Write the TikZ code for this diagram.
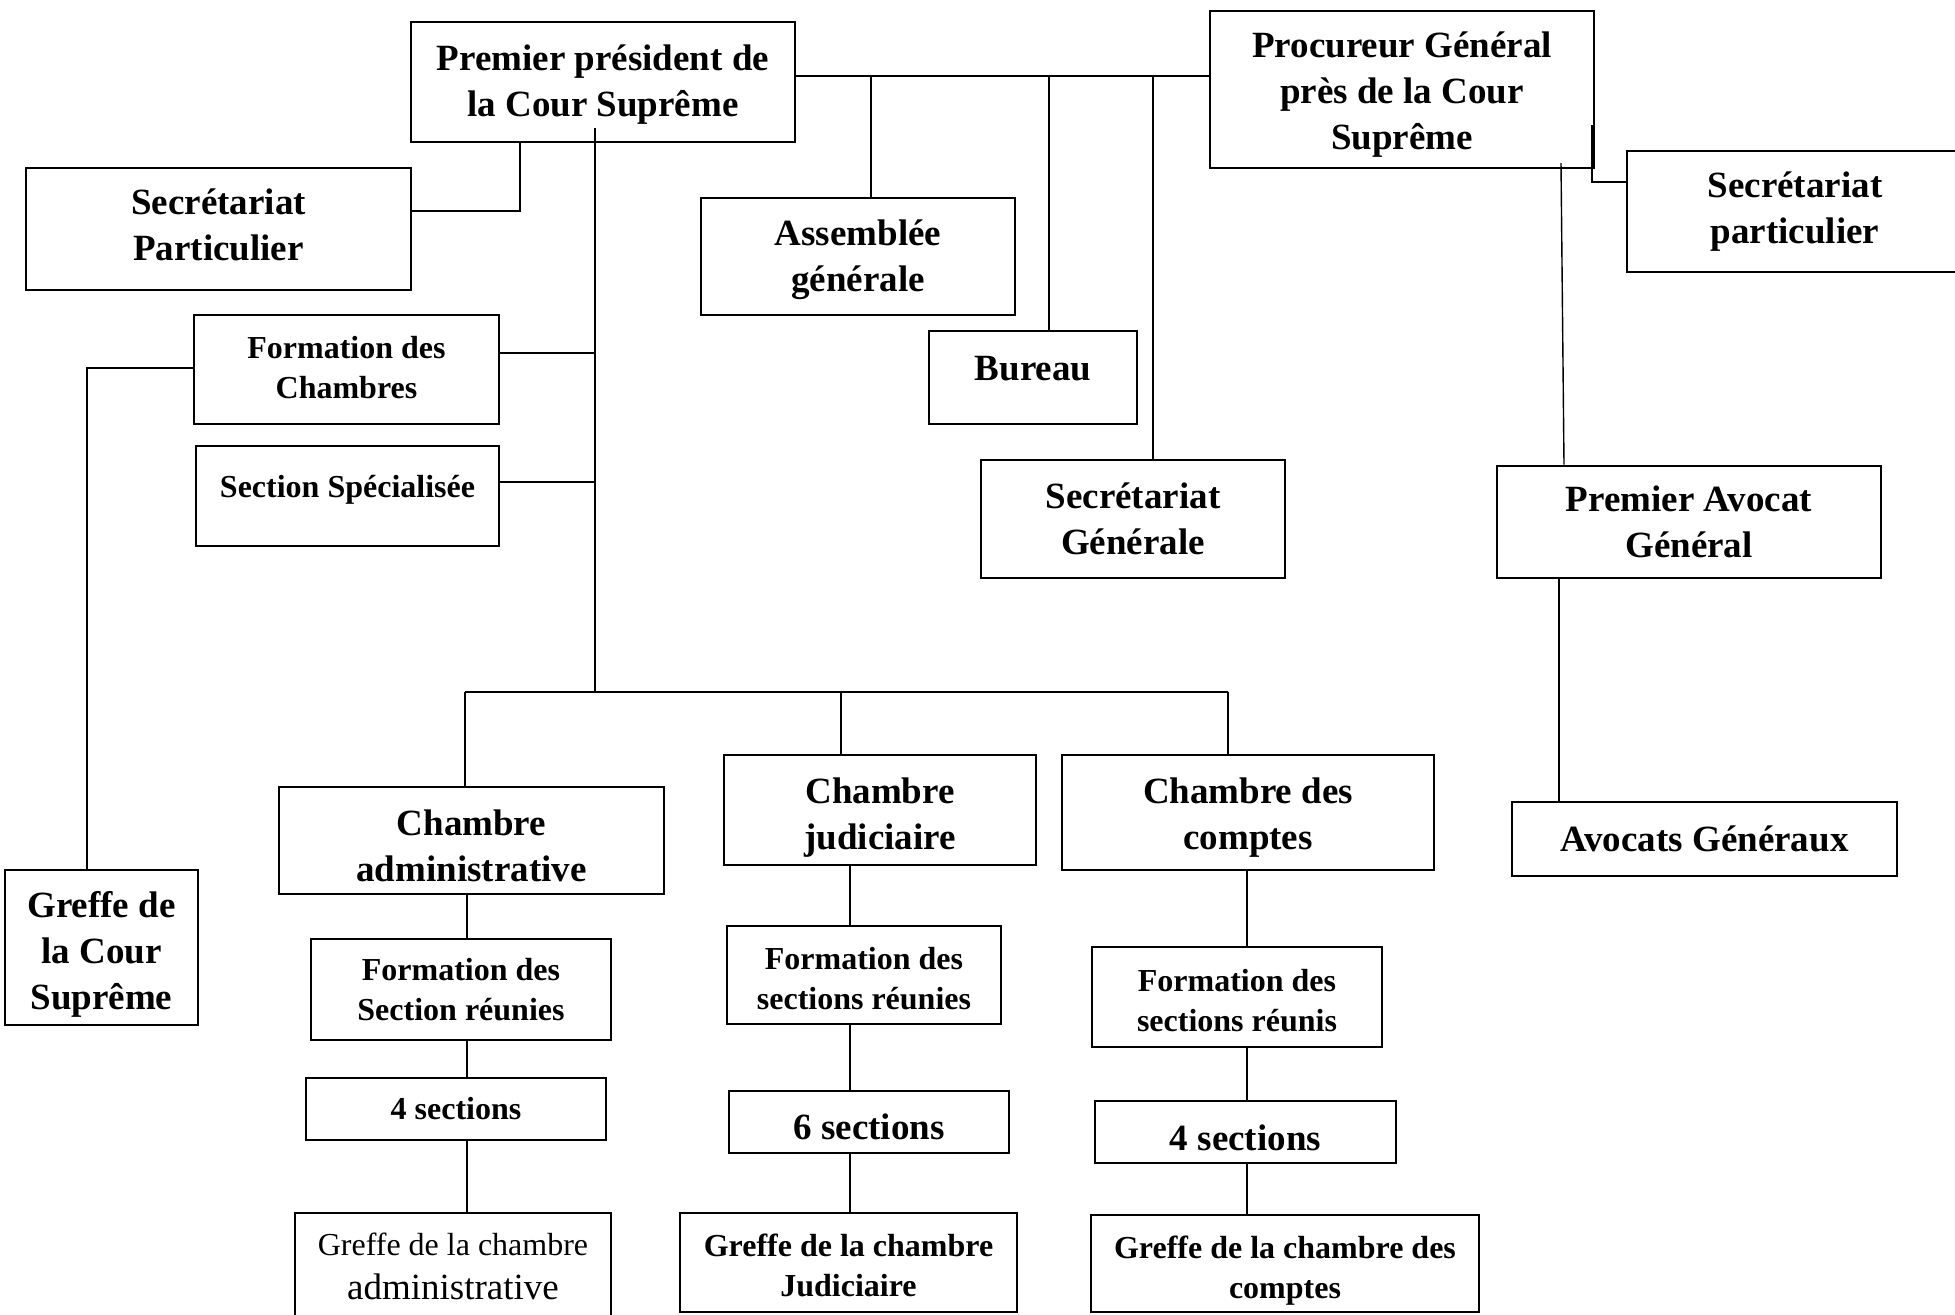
\documentclass[tikz,border=0pt]{standalone}
\usepackage{fontspec}
\setmainfont{Liberation Serif}
\tikzset{
  box/.style={draw, line width=1.4pt, inner sep=0pt},
  conn/.style={line width=0.7pt},
  big/.style={font=\bfseries\fontsize{18.5pt}{23pt}\selectfont, align=center},
  small/.style={font=\bfseries\fontsize{16pt}{20pt}\selectfont, align=center},
  reg/.style={font=\fontsize{16pt}{22pt}\selectfont, align=center}
}
% #1 text shift (px, up), #2 name, #3 style, #4-#7 corners, #8 text
\newcommand\obox[8][0]{%
  \pgfmathsetmacro\obw{(#6-#4)*0.5}%
  \pgfmathsetmacro\obh{(#7-#5)*0.5}%
  \node[box, minimum width=\obw pt, minimum height=\obh pt] (#2) at ({(#4+#6)/2},{(#5+#7)/2}) {};
  \node[#3] (#2-t) at ([yshift=#1*0.5pt]#2.center) {#8};
}
\begin{document}
\begin{tikzpicture}[x=0.5pt,y=-0.5pt]
\clip (0,0) rectangle (1955,1314);
\fill[white] (0,0) rectangle (1955,1314);

\obox[-3]{premier}{big}{411}{22}{795}{142}{Premier président de\\la Cour Suprême}
\obox[-5]{proc}{big}{1210}{11}{1594}{168}{Procureur Général\\près de la Cour\\Suprême}
\obox[4]{secP}{big}{26}{168}{411}{290}{Secrétariat\\Particulier}
\obox[-3]{asm}{big}{701}{198}{1015}{315}{Assemblée\\générale}
\obox[9]{bureau}{big}{929}{331}{1137}{424}{Bureau}
\obox{secG}{big}{981}{460}{1285}{578}{Secrétariat\\Générale}
\obox{secPR}{big}{1627}{151}{1963}{272}{Secrétariat\\particulier}
\obox[2]{fc}{small}{194}{315}{499}{424}{Formation des\\Chambres}
\obox[6]{ss}{small}{196}{446}{499}{546}{Section Spécialisée}
\obox{pav}{big}{1497}{466}{1881}{578}{Premier Avocat\\Général}
\obox{avg}{big}{1512}{802}{1897}{876}{Avocats Généraux}
\obox[-7]{gc}{big}{5}{870}{198}{1025}{Greffe de\\la Cour\\Suprême}
\obox[-5]{chadm}{big}{279}{787}{664}{894}{Chambre\\administrative}
\obox[-8]{chjud}{big}{724}{755}{1036}{865}{Chambre\\judiciaire}
\obox[-5]{chcomp}{big}{1062}{755}{1434}{870}{Chambre des\\comptes}
\obox{fadm}{small}{311}{939}{611}{1040}{Formation des\\Section réunies}
\obox[-4]{fjud}{small}{727}{926}{1001}{1024}{Formation des\\sections réunies}
\obox[-4]{fcomp}{small}{1092}{947}{1382}{1047}{Formation des\\sections réunis}
\obox{sa}{small}{306}{1078}{606}{1140}{4 sections}
\obox[-5]{sj}{big}{729}{1091}{1009}{1153}{6 sections}
\obox[-6]{sc}{big}{1095}{1101}{1396}{1163}{4 sections}
\obox{gadm}{reg}{295}{1213}{611}{1320}{Greffe de la chambre\\{\fontsize{18.5pt}{22pt}\selectfont administrative}}
\obox[-3]{gjud}{small}{680}{1213}{1017}{1312}{Greffe de la chambre\\Judiciaire}
\obox[-7]{gcomp}{small}{1091}{1215}{1479}{1312}{Greffe de la chambre des\\comptes}

% helper coordinates
\coordinate (hT) at (0,76);
\coordinate (vA) at (871,76);
\coordinate (vB) at (1049,76);
\coordinate (vC) at (1153,76);
\coordinate (ps) at (520,211);
\coordinate (mt) at (595,128);
\coordinate (mb) at (595,692);
\coordinate (m1) at (595,353);
\coordinate (m2) at (595,482);
\coordinate (bl) at (465,692);
\coordinate (bm) at (841,692);
\coordinate (br) at (1228,692);
\coordinate (g1) at (87,368);
\coordinate (pr0) at (1592,125);
\coordinate (pr) at (1592,182);
\coordinate (pa0) at (1561,163);
\coordinate (pa1) at (1564,300);
\coordinate (av) at (1559,700);
\coordinate (ca) at (467,1000);
\coordinate (cj) at (850,1000);
\coordinate (cc) at (1247,1000);

\begin{scope}[conn]
\draw (premier.east |- hT) -- (proc.west |- hT);
\draw (vA) -- (vA |- asm.north);
\draw (vB) -- (vB |- bureau.north);
\draw (vC) -- (vC |- secG.north);
\draw (ps |- premier.south) -- (ps) -- (ps -| secP.east);
\draw (mt) -- (mb);
\draw (m1) -- (m1 -| fc.east);
\draw (m2) -- (m2 -| ss.east);
\draw (bl) -- (br);
\draw (bl) -- (bl |- chadm.north);
\draw (bm) -- (bm |- chjud.north);
\draw (br) -- (br |- chcomp.north);
\draw (g1 -| fc.west) -- (g1) -- (g1 |- gc.north);
\draw (pr0) -- (pr) -- (pr -| secPR.west);
\draw (pa0) -- (pa1 |- pav.north);
\draw (av |- pav.south) -- (av |- avg.north);
\draw (ca |- chadm.south) -- (ca |- fadm.north);
\draw (ca |- fadm.south) -- (ca |- sa.north);
\draw (ca |- sa.south) -- (ca |- gadm.north);
\draw (cj |- chjud.south) -- (cj |- fjud.north);
\draw (cj |- fjud.south) -- (cj |- sj.north);
\draw (cj |- sj.south) -- (cj |- gjud.north);
\draw (cc |- chcomp.south) -- (cc |- fcomp.north);
\draw (cc |- fcomp.south) -- (cc |- sc.north);
\draw (cc |- sc.south) -- (cc |- gcomp.north);
\end{scope}
\end{tikzpicture}
\end{document}
